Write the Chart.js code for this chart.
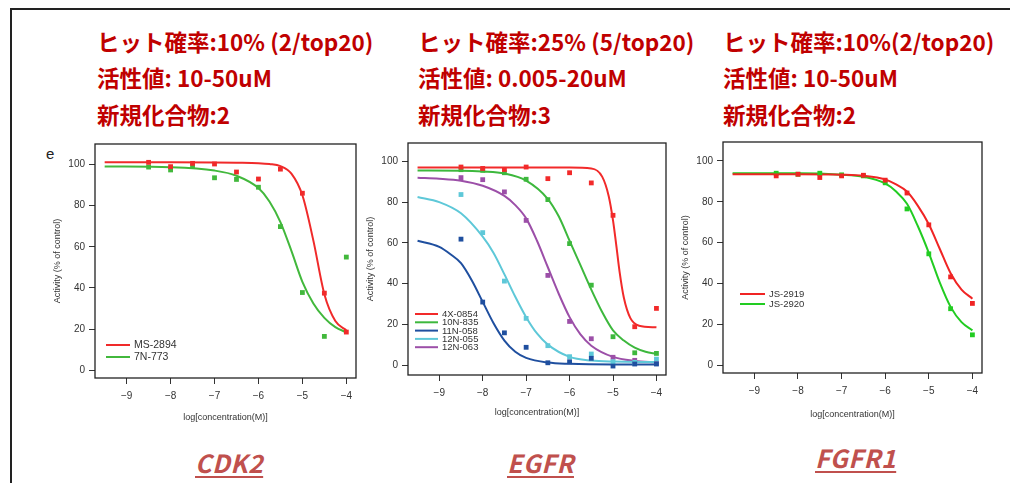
<!DOCTYPE html>
<html>
<head>
<meta charset="utf-8">
<script src="https://cdn.jsdelivr.net/npm/chart.js@4.4.1/dist/chart.umd.min.js"></script>
<style>
  body { margin: 0; background: #fff; width: 1010px; height: 483px; overflow: hidden; position: relative; }
  #frame { position: absolute; left: 10px; top: 8px; width: 1100px; height: 600px; border-left: 2px solid #222; border-top: 2px solid #222; }
  .hd { position: absolute; color: #c00000; font-weight: bold; font-size: 22.5px; line-height: 26px; white-space: nowrap;
        font-family: "Noto Sans CJK JP", sans-serif; }
  .tg { position: absolute; color: #c0504d; font-weight: bold; font-style: italic; text-decoration: underline;
        text-decoration-thickness: 2px; text-underline-offset: 3px; font-size: 25px;
        line-height: 28px; white-space: nowrap; letter-spacing: 0.5px; font-family: "Noto Sans CJK JP", sans-serif; }
  .cv { position: absolute; }
  #e { position: absolute; left: 46px; top: 145px; font: 15px "Liberation Sans", sans-serif; color: #222; }
</style>
</head>
<body>
<div id="frame"></div>

<div class="hd" style="left:97px;top:28px">ヒット確率:10% (2/top20)</div>
<div class="hd" style="left:97px;top:64px">活性値: 10-50uM</div>
<div class="hd" style="left:97px;top:101px">新規化合物:2</div>
<div class="hd" style="left:418px;top:28px">ヒット確率:25% (5/top20)</div>
<div class="hd" style="left:418px;top:64px">活性値: 0.005-20uM</div>
<div class="hd" style="left:418px;top:101px">新規化合物:3</div>
<div class="hd" style="left:723px;top:28px">ヒット確率:10%(2/top20)</div>
<div class="hd" style="left:723px;top:64px">活性値: 10-50uM</div>
<div class="hd" style="left:723px;top:101px">新規化合物:2</div>

<div id="e">e</div>

<div class="cv" style="left:40px;top:134px;width:330px;height:300px"><canvas id="cdk2"></canvas></div>
<div class="cv" style="left:353px;top:133px;width:327px;height:298px"><canvas id="egfr"></canvas></div>
<div class="cv" style="left:668px;top:132px;width:328px;height:297px"><canvas id="fgfr1"></canvas></div>

<div class="tg" style="left:195px;top:448px">CDK2</div>
<div class="tg" style="left:507px;top:448px">EGFR</div>
<div class="tg" style="left:815px;top:443px">FGFR1</div>

<script>
// 測定濃度 (log M)
const logConc = [-8.5, -8, -7.5, -7, -6.5, -6, -5.5, -5, -4.5, -4];
const xTicks = [-9, -8, -7, -6, -5, -4];
const yTicks = [0, 20, 40, 60, 80, 100];

// ---- CDK2 ----
const cdk2Labels = ["MS-2894", "7N-773"];
const cdk2Ms2894 = [101, 98.9, 100.5, 100.2, 96.3, 92.9, 97.7, 86, 37.5, 18.6];
const cdk2N773 = [98.7, 97.3, 99.2, 93.5, 92.7, 88.9, 69.8, 37.8, 16.5, 55];
const cdk2FitX = [-9.5, -8, -7, -6.5, -6, -5.75, -5.5, -5.25, -5, -4.75, -4.5, -4.25, -4];
const cdk2FitMs2894 = [101, 101, 100.9, 100.8, 100.6, 100.2, 99.2, 95.5, 85, 63, 37, 24, 19.5];
const cdk2FitN773 = [99, 98.6, 97, 94.5, 88.5, 82, 72, 58, 43, 32.5, 25.5, 21, 18.5];

// ---- EGFR ----
const egfrLabels = ["4X-0854", "10N-835", "11N-058", "12N-055", "12N-063"];
const egfr4x0854 = [97.2, 96.5, 96, 97.2, 91.5, 94.4, 89.4, 73.5, 18.8, 27.8];
const egfr10n835 = [95.9, 95.6, 94.4, 91.2, 81.2, 59.6, 39.2, 13.9, 6, 5.7];
const egfr11n058 = [61.8, 30.9, 15.8, 8.7, 1.1, 1.6, 3.3, -0.5, 0.5, 0.5];
const egfr12n055 = [83.7, 65, 41.2, 22.9, 9.5, 4.1, 5.4, 1.6, 1.3, 2.9];
const egfr12n063 = [92, 91, 85, 71, 44, 21.4, 12.9, 3.8, 2.3, 0.8];
const egfrFitX4x = [-9.5, -6, -5.5, -5.25, -5.1, -5, -4.92, -4.85, -4.75, -4.6, -4.4, -4];
const egfrFit4x = [97, 97, 96.5, 92.5, 83, 71, 58, 46, 33, 23, 19.3, 18.5];
const egfrFitX10n = [-9.5, -8.5, -8, -7.5, -7, -6.5, -6.25, -6, -5.75, -5.5, -5.25, -5, -4.75, -4.5, -4.25, -4];
const egfrFit10n = [95.5, 95.4, 95, 94, 90.5, 81.5, 73, 61, 49, 37, 26, 17, 12, 8.5, 6.5, 5.5];
const egfrFitX11n = [-9.5, -9, -8.75, -8.5, -8.25, -8, -7.75, -7.5, -7.25, -7, -6.5, -6, -5, -4];
const egfrFit11n = [61, 58, 54.5, 50, 41.5, 31, 20.5, 12, 6.5, 3.5, 1.2, 0.6, 0.3, 0.3];
const egfrFitX12n055 = [-9.5, -9, -8.5, -8, -7.75, -7.5, -7.25, -7, -6.75, -6.5, -6, -5.5, -5, -4];
const egfrFit12n055 = [82.5, 80, 74.5, 63, 55, 44.5, 33.5, 23.5, 15.5, 10, 4, 2.2, 1.7, 1.5];
const egfrFitX12n063 = [-9.5, -9, -8.5, -8, -7.5, -7.25, -7, -6.75, -6.5, -6.25, -6, -5.75, -5.5, -5, -4.5, -4];
const egfrFit12n063 = [92, 91.5, 90.5, 88, 83, 78.5, 72, 61, 48, 35, 23.5, 15, 9.5, 4, 2, 1.3];

// ---- FGFR1 ----
const fgfrLabels = ["JS-2919", "JS-2920"];
const fgfrJs2919 = [92.7, 93.5, 91.9, 92.7, 93, 90.6, 84.3, 68.7, 43.2, 30.2];
const fgfrJs2920 = [94, 93.5, 94, 93.2, 92.7, 89.3, 76.5, 54.5, 27.6, 14.8];
const fgfrFitX = [-9.5, -8, -7, -6.5, -6, -5.75, -5.5, -5.25, -5, -4.75, -4.5, -4.25, -4];
const fgfrFitJs2919 = [93.5, 93.5, 93.3, 92.8, 91, 88.5, 85, 78, 69, 57, 45, 37, 32.5];
const fgfrFitJs2920 = [94, 94, 93.3, 92.3, 89, 85, 79, 68, 55, 40.5, 28.5, 21, 17];

const pairs = (xs, ys) => xs.map((x, i) => ({ x, y: ys[i] }));
const minus = v => String(v).replace("-", "\u2212");

// 枠と凡例
const boxPlugin = {
  id: "boxLegend",
  afterDraw(chart, args, o) {
    const { ctx, chartArea: a } = chart;
    ctx.save();
    ctx.strokeStyle = "#222";
    ctx.lineWidth = 1.3;
    ctx.strokeRect(a.left, a.top, a.right - a.left, a.bottom - a.top);
    ctx.font = o.size + "px 'Liberation Sans', Arial, sans-serif";
    ctx.textBaseline = "middle";
    ctx.fillStyle = "#333";
    let k = 0;
    chart.data.datasets.forEach(ds => {
      if (!ds.label) return;
      const y = o.y + k * o.dy;
      ctx.strokeStyle = ds.borderColor;
      ctx.lineWidth = 2;
      ctx.beginPath();
      ctx.moveTo(o.x, y);
      ctx.lineTo(o.x + o.len, y);
      ctx.stroke();
      ctx.fillText(ds.label, o.x + o.len + 4, y + 0.5);
      k++;
    });
    ctx.restore();
  }
};

function makeChart(id, cfg) {
  const datasets = [];
  cfg.series.forEach(s => {
    datasets.push({
      type: "line", label: s.label, data: pairs(s.fitX, s.fitY),
      borderColor: s.color, borderWidth: 2, pointRadius: 0,
      cubicInterpolationMode: "monotone", fill: false, order: 2
    });
    datasets.push({
      type: "scatter", label: "", data: pairs(logConc, s.points),
      backgroundColor: s.color, borderColor: s.color, borderWidth: 0,
      pointStyle: "rect", pointRadius: 3.4, order: 1
    });
  });
  const tickFont = { family: "'Liberation Sans', Arial, sans-serif", size: 10 };
  const titleFont = { family: "'Liberation Sans', Arial, sans-serif", size: 9 };
  new Chart(document.getElementById(id), {
    data: { datasets },
    options: {
      responsive: true, maintainAspectRatio: false, animation: false,
      layout: { padding: { left: 0, right: 14, top: 10, bottom: 0 } },
      plugins: { legend: { display: false }, tooltip: { enabled: false }, boxLegend: cfg.legend },
      scales: {
        x: {
          type: "linear", min: -9.72, max: -3.78,
          afterBuildTicks: s => { s.ticks = xTicks.map(v => ({ value: v })); },
          grid: { drawOnChartArea: false, drawTicks: true, tickLength: 6, tickColor: "#333", tickWidth: 1 },
          border: { display: false },
          ticks: { font: tickFont, color: "#333", padding: 6, maxRotation: 0, callback: v => minus(v) },
          title: { display: true, text: "log[concentration(M)]", color: "#333",
                   font: titleFont, padding: { top: 0, bottom: cfg.xTitlePad } },
          afterFit: s => { s.height = 56; }
        },
        y: {
          type: "linear", min: cfg.yMin, max: cfg.yMax,
          afterBuildTicks: s => { s.ticks = yTicks.map(v => ({ value: v })); },
          grid: { drawOnChartArea: false, drawTicks: true, tickLength: 6, tickColor: "#333", tickWidth: 1 },
          border: { display: false },
          ticks: { font: tickFont, color: "#333", padding: 4 },
          title: { display: true, text: "Activity (% of control)", color: "#333",
                   font: titleFont, padding: { top: 12, bottom: 0 } },
          afterFit: s => { s.width = 55; }
        }
      }
    },
    plugins: [boxPlugin]
  });
}

makeChart("cdk2", {
  yMin: -3.7, yMax: 109.9, xTitlePad: 11,
  legend: { x: 66, y: 211, dy: 12, len: 24, size: 10.5 },
  series: [
    { label: cdk2Labels[0], color: "#f02a2a", points: cdk2Ms2894, fitX: cdk2FitX, fitY: cdk2FitMs2894 },
    { label: cdk2Labels[1], color: "#42b83c", points: cdk2N773, fitX: cdk2FitX, fitY: cdk2FitN773 }
  ]
});

makeChart("egfr", {
  yMin: -4.9, yMax: 109, xTitlePad: 13,
  legend: { x: 62, y: 181, dy: 8.3, len: 23, size: 9.5 },
  series: [
    { label: egfrLabels[0], color: "#f22a2a", points: egfr4x0854, fitX: egfrFitX4x, fitY: egfrFit4x },
    { label: egfrLabels[1], color: "#3db83d", points: egfr10n835, fitX: egfrFitX10n, fitY: egfrFit10n },
    { label: egfrLabels[2], color: "#1f4f9f", points: egfr11n058, fitX: egfrFitX11n, fitY: egfrFit11n },
    { label: egfrLabels[3], color: "#5ec8d8", points: egfr12n055, fitX: egfrFitX12n055, fitY: egfrFit12n055 },
    { label: egfrLabels[4], color: "#9c4fa8", points: egfr12n063, fitX: egfrFitX12n063, fitY: egfrFit12n063 }
  ]
});

makeChart("fgfr1", {
  yMin: -3.9, yMax: 109.3, xTitlePad: 9,
  legend: { x: 72, y: 162, dy: 10, len: 25, size: 9.5 },
  series: [
    { label: fgfrLabels[0], color: "#f02424", points: fgfrJs2919, fitX: fgfrFitX, fitY: fgfrFitJs2919 },
    { label: fgfrLabels[1], color: "#22cc22", points: fgfrJs2920, fitX: fgfrFitX, fitY: fgfrFitJs2920 }
  ]
});
</script>
</body>
</html>
